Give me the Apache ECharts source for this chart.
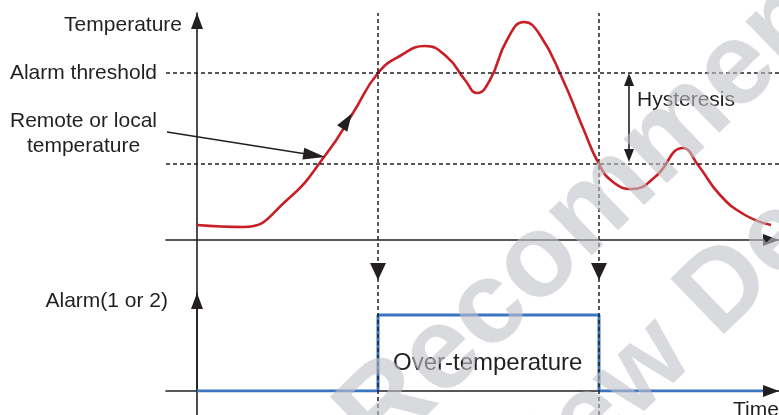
<!DOCTYPE html>
<html><head><meta charset="utf-8">
<script src="https://cdn.jsdelivr.net/npm/echarts@6/dist/echarts.min.js"></script>
<style>html,body{margin:0;padding:0;background:#fff}#c{width:779px;height:415px}</style>
</head><body><div id="c"></div>
<script>
// ---- data (time in arbitrary units, temperature in arbitrary units) ----
const curveTime = [0, 11.5, 22.5, 32.5, 39, 45.25, 50.75, 57, 62.5, 67, 70, 73.25, 77.5, 81.75, 85.75, 91.5, 96.5, 100.5, 104, 108.75, 114.5, 121.5, 125.25, 130.75, 137, 143.5];
const curveTemp = [7.5, 6.5, 20, 43.5, 63.5, 83.5, 92, 97, 91.5, 80, 73.5, 80, 100, 109, 102.5, 80, 56, 38, 29, 25.5, 31.5, 46, 37.5, 22.5, 12.5, 7.5];
const eventTimes = [45.25, 100.5];
const alarmThreshold = 83.5;
const lowerThreshold = 38;
const alarmTime = [0, 45.25, 45.25, 100.5, 100.5, 141.5];
const alarmLevel = [0, 0, 1, 1, 0, 0];
const hysteresisTime = 108;

const BLACK = '#231f20', RED = '#c81e25', BLUE = '#3a74c2';
const FONT = '"Liberation Sans", Arial, sans-serif';
const tMin = -7.75, tMax = 145.5;

const chart = echarts.init(document.getElementById('c'), null, {renderer: 'canvas'});
const dashed = {color: BLACK, width: 1.5, type: [4, 3]};
const solid = {color: BLACK, width: 1.6, type: 'solid'};
const noAxisBits = {axisTick: {show: false}, axisLabel: {show: false}, splitLine: {show: false}};
const arrowLine = (show) => ({show, onZero: true, symbol: ['none', 'triangle'], symbolSize: [12, 16], symbolOffset: [0, -8], lineStyle: {color: BLACK, width: 1.6}});

// text helpers
function label(text, x, baseline, align, size) {
  return {type: 'text', x: x, y: baseline - 0.3465 * size, z: 50,
    style: {text, font: size + 'px ' + FONT, fill: BLACK, textAlign: align, textVerticalAlign: 'middle'}};
}
const mctx = document.createElement('canvas').getContext('2d');
const th = 44 * Math.PI / 180, ux = Math.cos(th), uy = -Math.sin(th);
function wm(text, prefix, px, py, size) {
  const font = 'bold ' + size + 'px ' + FONT;
  mctx.font = font;
  const w = mctx.measureText(prefix).width;
  return {type: 'text', x: px - w * ux, y: py - w * uy, rotation: th, z: 100, silent: true,
    style: {text, x: 0, y: -0.3465 * size, font: font, fill: 'rgba(192,194,198,0.6)', textAlign: 'left', textVerticalAlign: 'middle'}};
}

chart.setOption({
  animation: false,
  grid: [
    {left: 166, right: 0, top: 13, height: 227},
    {left: 166, right: 0, top: 293, height: 98},
    {left: 166, right: 0, top: 13, bottom: 0}
  ],
  xAxis: [
    Object.assign({type: 'value', gridIndex: 0, min: tMin, max: tMax, axisLine: arrowLine(true)}, noAxisBits),
    Object.assign({type: 'value', gridIndex: 1, min: tMin, max: tMax, axisLine: arrowLine(true)}, noAxisBits),
    Object.assign({type: 'value', gridIndex: 2, min: tMin, max: tMax, axisLine: {show: false}}, noAxisBits)
  ],
  yAxis: [
    Object.assign({type: 'value', gridIndex: 0, min: 0, max: 113.5, axisLine: {show: false}}, noAxisBits),
    Object.assign({type: 'value', gridIndex: 1, min: 0, max: 98 / 76, axisLine: arrowLine(true)}, noAxisBits),
    Object.assign({type: 'value', gridIndex: 2, min: 0, max: 1, axisLine: arrowLine(true)}, noAxisBits)
  ],
  series: [
    {
      type: 'line', xAxisIndex: 2, yAxisIndex: 2, data: [], silent: true,
      markLine: {silent: true, symbol: ['none', 'none'], label: {show: false}, lineStyle: dashed,
        data: eventTimes.map(t => ({xAxis: t}))}
    },
    {
      type: 'scatter', xAxisIndex: 2, yAxisIndex: 2, silent: true, z: 5,
      data: eventTimes.map(t => [t, 0.357]),
      symbol: 'triangle', symbolSize: [16, 17], symbolRotate: 180, itemStyle: {color: BLACK, opacity: 1}
    },
    {
      type: 'line', xAxisIndex: 0, yAxisIndex: 0, silent: true, smooth: 0.5, symbol: 'none', z: 3,
      data: curveTime.map((t, i) => [t, curveTemp[i]]),
      lineStyle: {color: RED, width: 2.6},
      markLine: {silent: true, label: {show: false}, symbol: ['none', 'none'],
        data: [
          {yAxis: alarmThreshold, lineStyle: dashed},
          {yAxis: lowerThreshold, lineStyle: dashed},
          [{coord: [hysteresisTime, alarmThreshold - 3.25], symbol: 'triangle', symbolSize: [10, 13], lineStyle: solid},
           {coord: [hysteresisTime, lowerThreshold + 4.25], symbol: 'triangle', symbolSize: [10, 13]}],
          [{coord: [-7.5, 54], symbol: 'none', lineStyle: solid},
           {coord: [29.3, 42.35], symbol: 'triangle', symbolSize: [12, 22]}]
        ]},
      markPoint: {silent: true, label: {show: false},
        data: [{coord: [37.5, 59.5], symbol: 'triangle', symbolSize: [12, 18], symbolRotate: -32.5, itemStyle: {color: BLACK}}]}
    },
    {
      type: 'line', xAxisIndex: 1, yAxisIndex: 1, silent: true, symbol: 'none', z: 3,
      data: alarmTime.map((t, i) => [t, alarmLevel[i]]),
      lineStyle: {color: BLUE, width: 3}
    }
  ],
  graphic: [
    label('Temperature', 182, 32, 'right', 21),
    label('Alarm threshold', 157, 80, 'right', 21),
    label('Remote or local', 83.5, 128, 'center', 21),
    label('temperature', 83.5, 153, 'center', 21),
    label('Hysteresis', 637, 107, 'left', 21),
    label('Alarm(1 or 2)', 168, 308, 'right', 21),
    label('Over-temperature', 393, 372, 'left', 24),
    label('Time', 733, 417, 'left', 21),
    wm('Not Recommended', 'Not ', 386, 466, 117),
    wm('for New Designs', 'for New ', 724, 345, 112)
  ]
});
</script></body></html>
